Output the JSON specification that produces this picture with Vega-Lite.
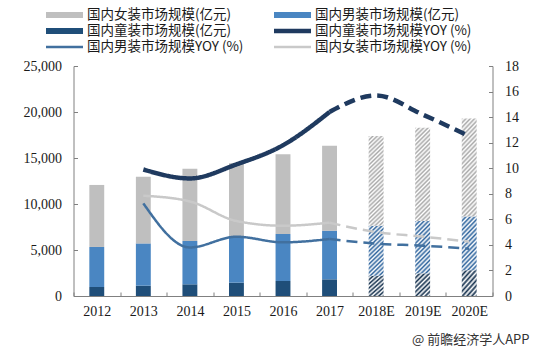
{
  "$schema": "https://vega.github.io/schema/vega-lite/v6.json",
  "width": 419,
  "height": 230,
  "autosize": {"type": "none"},
  "padding": {"left": 73.5, "top": 66, "right": 44.5, "bottom": 56},
  "background": "white",
  "config": {
    "view": {"stroke": null},
    "axis": {"grid": false, "domainColor": "#808080", "tickColor": "#808080", "labelColor": "#1a1a1a", "labelFont": "Liberation Serif", "labelFontSize": 14, "title": null}
  },
  "title": {"text": "@ 前瞻经济学人APP", "orient": "bottom", "anchor": "end", "frame": "group", "offset": 16, "dx": 37, "font": "Noto Sans CJK SC", "fontSize": 13, "fontWeight": "normal", "color": "#333333"},
  "datasets": {
    "bars": [
      {"year": "2012", "series": "国内童装市场规模(亿元)", "value": 980, "ord": 1, "type": "actual"},
      {"year": "2012", "series": "国内男装市场规模(亿元)", "value": 4350, "ord": 2, "type": "actual"},
      {"year": "2012", "series": "国内女装市场规模(亿元)", "value": 6740, "ord": 3, "type": "actual"},
      {"year": "2013", "series": "国内童装市场规模(亿元)", "value": 1120, "ord": 1, "type": "actual"},
      {"year": "2013", "series": "国内男装市场规模(亿元)", "value": 4600, "ord": 2, "type": "actual"},
      {"year": "2013", "series": "国内女装市场规模(亿元)", "value": 7240, "ord": 3, "type": "actual"},
      {"year": "2014", "series": "国内童装市场规模(亿元)", "value": 1270, "ord": 1, "type": "actual"},
      {"year": "2014", "series": "国内男装市场规模(亿元)", "value": 4710, "ord": 2, "type": "actual"},
      {"year": "2014", "series": "国内女装市场规模(亿元)", "value": 7860, "ord": 3, "type": "actual"},
      {"year": "2015", "series": "国内童装市场规模(亿元)", "value": 1450, "ord": 1, "type": "actual"},
      {"year": "2015", "series": "国内男装市场规模(亿元)", "value": 5000, "ord": 2, "type": "actual"},
      {"year": "2015", "series": "国内女装市场规模(亿元)", "value": 7970, "ord": 3, "type": "actual"},
      {"year": "2016", "series": "国内童装市场规模(亿元)", "value": 1630, "ord": 1, "type": "actual"},
      {"year": "2016", "series": "国内男装市场规模(亿元)", "value": 5110, "ord": 2, "type": "actual"},
      {"year": "2016", "series": "国内女装市场规模(亿元)", "value": 8660, "ord": 3, "type": "actual"},
      {"year": "2017", "series": "国内童装市场规模(亿元)", "value": 1810, "ord": 1, "type": "actual"},
      {"year": "2017", "series": "国内男装市场规模(亿元)", "value": 5290, "ord": 2, "type": "actual"},
      {"year": "2017", "series": "国内女装市场规模(亿元)", "value": 9240, "ord": 3, "type": "actual"},
      {"year": "2018E", "series": "国内童装市场规模(亿元)", "value": 2200, "ord": 1, "type": "forecast"},
      {"year": "2018E", "series": "国内男装市场规模(亿元)", "value": 5440, "ord": 2, "type": "forecast"},
      {"year": "2018E", "series": "国内女装市场规模(亿元)", "value": 9750, "ord": 3, "type": "forecast"},
      {"year": "2019E", "series": "国内童装市场规模(亿元)", "value": 2460, "ord": 1, "type": "forecast"},
      {"year": "2019E", "series": "国内男装市场规模(亿元)", "value": 5690, "ord": 2, "type": "forecast"},
      {"year": "2019E", "series": "国内女装市场规模(亿元)", "value": 10150, "ord": 3, "type": "forecast"},
      {"year": "2020E", "series": "国内童装市场规模(亿元)", "value": 2800, "ord": 1, "type": "forecast"},
      {"year": "2020E", "series": "国内男装市场规模(亿元)", "value": 5850, "ord": 2, "type": "forecast"},
      {"year": "2020E", "series": "国内女装市场规模(亿元)", "value": 10650, "ord": 3, "type": "forecast"}
    ],
    "lines": [
      {"year": "2013", "series": "国内童装市场规模YOY (%)", "value": 9.9, "phase": "actual"},
      {"year": "2014", "series": "国内童装市场规模YOY (%)", "value": 9.2, "phase": "actual"},
      {"year": "2015", "series": "国内童装市场规模YOY (%)", "value": 10.3, "phase": "actual"},
      {"year": "2016", "series": "国内童装市场规模YOY (%)", "value": 11.8, "phase": "actual"},
      {"year": "2017", "series": "国内童装市场规模YOY (%)", "value": 14.4, "phase": "actual"},
      {"year": "2017", "series": "国内童装市场规模YOY (%)", "value": 14.4, "phase": "forecast"},
      {"year": "2018E", "series": "国内童装市场规模YOY (%)", "value": 15.7, "phase": "forecast"},
      {"year": "2019E", "series": "国内童装市场规模YOY (%)", "value": 14.2, "phase": "forecast"},
      {"year": "2020E", "series": "国内童装市场规模YOY (%)", "value": 12.5, "phase": "forecast"},
      {"year": "2013", "series": "国内男装市场规模YOY (%)", "value": 7.25, "phase": "actual"},
      {"year": "2014", "series": "国内男装市场规模YOY (%)", "value": 3.8, "phase": "actual"},
      {"year": "2015", "series": "国内男装市场规模YOY (%)", "value": 4.64, "phase": "actual"},
      {"year": "2016", "series": "国内男装市场规模YOY (%)", "value": 4.2, "phase": "actual"},
      {"year": "2017", "series": "国内男装市场规模YOY (%)", "value": 4.46, "phase": "actual"},
      {"year": "2017", "series": "国内男装市场规模YOY (%)", "value": 4.46, "phase": "forecast"},
      {"year": "2018E", "series": "国内男装市场规模YOY (%)", "value": 4.1, "phase": "forecast"},
      {"year": "2019E", "series": "国内男装市场规模YOY (%)", "value": 3.94, "phase": "forecast"},
      {"year": "2020E", "series": "国内男装市场规模YOY (%)", "value": 3.7, "phase": "forecast"},
      {"year": "2013", "series": "国内女装市场规模YOY (%)", "value": 7.85, "phase": "actual"},
      {"year": "2014", "series": "国内女装市场规模YOY (%)", "value": 7.4, "phase": "actual"},
      {"year": "2015", "series": "国内女装市场规模YOY (%)", "value": 5.87, "phase": "actual"},
      {"year": "2016", "series": "国内女装市场规模YOY (%)", "value": 5.5, "phase": "actual"},
      {"year": "2017", "series": "国内女装市场规模YOY (%)", "value": 5.74, "phase": "actual"},
      {"year": "2017", "series": "国内女装市场规模YOY (%)", "value": 5.74, "phase": "forecast"},
      {"year": "2018E", "series": "国内女装市场规模YOY (%)", "value": 5.0, "phase": "forecast"},
      {"year": "2019E", "series": "国内女装市场规模YOY (%)", "value": 4.65, "phase": "forecast"},
      {"year": "2020E", "series": "国内女装市场规模YOY (%)", "value": 4.25, "phase": "forecast"}
    ]
  },
  "layer": [
    {
      "data": {"name": "bars"},
      "transform": [{"filter": "datum.type === 'actual'"}],
      "mark": {"type": "bar", "width": {"band": 0.32}},
      "encoding": {
        "x": {"field": "year", "type": "ordinal",
          "scale": {"domain": ["2012", "2013", "2014", "2015", "2016", "2017", "2018E", "2019E", "2020E"], "paddingInner": 0, "paddingOuter": 0},
          "axis": {"title": null, "labelAngle": 0, "tickBand": "extent", "tickSize": -4, "labelPadding": 12}},
        "y": {"field": "value", "type": "quantitative", "stack": "zero",
          "scale": {"domain": [0, 25000], "nice": false, "zero": true},
          "axis": {"orient": "left", "values": [0, 5000, 10000, 15000, 20000, 25000], "format": ",d", "tickSize": -4, "labelPadding": 16}},
        "color": {"field": "series", "type": "nominal",
          "scale": {"domain": ["国内女装市场规模(亿元)", "国内男装市场规模(亿元)", "国内童装市场规模(亿元)", "国内童装市场规模YOY (%)", "国内男装市场规模YOY (%)", "国内女装市场规模YOY (%)"],
                    "range": ["#BFBFBF", "#4A86C2", "#1F4E79", "#1F3A5F", "#41709F", "#C9C9C9"]},
          "legend": {"orient": "none", "legendX": -30.5, "legendY": -58, "columns": 2, "direction": "horizontal", "symbolType": "M-1,0H6.4", "symbolSize": 100, "clipHeight": 14,
            "labelFont": "Noto Sans CJK SC", "labelFontSize": 13.5, "labelColor": "#1a1a1a", "labelOffset": 28, "columnPadding": 27, "rowPadding": 2, "title": null, "padding": 0, "labelLimit": 300}},
        "order": {"field": "ord", "type": "quantitative"}
      }
    },
    {
      "data": {"name": "bars"},
      "transform": [{"filter": "datum.type === 'forecast'"}],
      "mark": {"type": "bar", "width": {"band": 0.32}},
      "encoding": {
        "x": {"field": "year", "type": "ordinal"},
        "y": {"field": "value", "type": "quantitative", "stack": "zero",
          "scale": {"domain": [0, 25000], "nice": false}, "axis": null},
        "detail": {"field": "series"},
        "order": {"field": "ord", "type": "quantitative"},
        "fill": {
          "condition": [
            {"test": "datum.series === '国内女装市场规模(亿元)'", "value": {"gradient": "linear", "x1": 0, "y1": 0, "x2": 0.1805, "y2": 1.131, "stops": [
              {"offset": 0, "color": "#A9A9A9"}, {"offset": 0.02, "color": "#FFFFFF"}, {"offset": 0.04, "color": "#A9A9A9"}, {"offset": 0.06, "color": "#FFFFFF"}, {"offset": 0.08, "color": "#A9A9A9"}, {"offset": 0.1, "color": "#FFFFFF"}, {"offset": 0.12, "color": "#A9A9A9"}, {"offset": 0.14, "color": "#FFFFFF"}, {"offset": 0.16, "color": "#A9A9A9"}, {"offset": 0.18, "color": "#FFFFFF"},
              {"offset": 0.2, "color": "#A9A9A9"}, {"offset": 0.22, "color": "#FFFFFF"}, {"offset": 0.24, "color": "#A9A9A9"}, {"offset": 0.26, "color": "#FFFFFF"}, {"offset": 0.28, "color": "#A9A9A9"}, {"offset": 0.3, "color": "#FFFFFF"}, {"offset": 0.32, "color": "#A9A9A9"}, {"offset": 0.34, "color": "#FFFFFF"}, {"offset": 0.36, "color": "#A9A9A9"}, {"offset": 0.38, "color": "#FFFFFF"},
              {"offset": 0.4, "color": "#A9A9A9"}, {"offset": 0.42, "color": "#FFFFFF"}, {"offset": 0.44, "color": "#A9A9A9"}, {"offset": 0.46, "color": "#FFFFFF"}, {"offset": 0.48, "color": "#A9A9A9"}, {"offset": 0.5, "color": "#FFFFFF"}, {"offset": 0.52, "color": "#A9A9A9"}, {"offset": 0.54, "color": "#FFFFFF"}, {"offset": 0.56, "color": "#A9A9A9"}, {"offset": 0.58, "color": "#FFFFFF"},
              {"offset": 0.6, "color": "#A9A9A9"}, {"offset": 0.62, "color": "#FFFFFF"}, {"offset": 0.64, "color": "#A9A9A9"}, {"offset": 0.66, "color": "#FFFFFF"}, {"offset": 0.68, "color": "#A9A9A9"}, {"offset": 0.7, "color": "#FFFFFF"}, {"offset": 0.72, "color": "#A9A9A9"}, {"offset": 0.74, "color": "#FFFFFF"}, {"offset": 0.76, "color": "#A9A9A9"}, {"offset": 0.78, "color": "#FFFFFF"},
              {"offset": 0.8, "color": "#A9A9A9"}, {"offset": 0.82, "color": "#FFFFFF"}, {"offset": 0.84, "color": "#A9A9A9"}, {"offset": 0.86, "color": "#FFFFFF"}, {"offset": 0.88, "color": "#A9A9A9"}, {"offset": 0.9, "color": "#FFFFFF"}, {"offset": 0.92, "color": "#A9A9A9"}, {"offset": 0.94, "color": "#FFFFFF"}, {"offset": 0.96, "color": "#A9A9A9"}, {"offset": 0.98, "color": "#FFFFFF"}, {"offset": 1, "color": "#A9A9A9"}
            ]}},
            {"test": "datum.series === '国内男装市场规模(亿元)'", "value": {"gradient": "linear", "x1": 0, "y1": 0, "x2": 0.343, "y2": 1.189, "stops": [
              {"offset": 0, "color": "#2F659E"}, {"offset": 0.0333, "color": "#FFFFFF"}, {"offset": 0.0667, "color": "#2F659E"}, {"offset": 0.1, "color": "#FFFFFF"}, {"offset": 0.1333, "color": "#2F659E"}, {"offset": 0.1667, "color": "#FFFFFF"}, {"offset": 0.2, "color": "#2F659E"}, {"offset": 0.2333, "color": "#FFFFFF"}, {"offset": 0.2667, "color": "#2F659E"}, {"offset": 0.3, "color": "#FFFFFF"},
              {"offset": 0.3333, "color": "#2F659E"}, {"offset": 0.3667, "color": "#FFFFFF"}, {"offset": 0.4, "color": "#2F659E"}, {"offset": 0.4333, "color": "#FFFFFF"}, {"offset": 0.4667, "color": "#2F659E"}, {"offset": 0.5, "color": "#FFFFFF"}, {"offset": 0.5333, "color": "#2F659E"}, {"offset": 0.5667, "color": "#FFFFFF"}, {"offset": 0.6, "color": "#2F659E"}, {"offset": 0.6333, "color": "#FFFFFF"},
              {"offset": 0.6667, "color": "#2F659E"}, {"offset": 0.7, "color": "#FFFFFF"}, {"offset": 0.7333, "color": "#2F659E"}, {"offset": 0.7667, "color": "#FFFFFF"}, {"offset": 0.8, "color": "#2F659E"}, {"offset": 0.8333, "color": "#FFFFFF"}, {"offset": 0.8667, "color": "#2F659E"}, {"offset": 0.9, "color": "#FFFFFF"}, {"offset": 0.9333, "color": "#2F659E"}, {"offset": 0.9667, "color": "#FFFFFF"}, {"offset": 1, "color": "#2F659E"}
            ]}}
          ],
          "value": {"gradient": "linear", "x1": 0, "y1": 0, "x2": 0.756, "y2": 1.159, "stops": [
            {"offset": 0, "color": "#16324F"}, {"offset": 0.0625, "color": "#FFFFFF"}, {"offset": 0.125, "color": "#16324F"}, {"offset": 0.1875, "color": "#FFFFFF"}, {"offset": 0.25, "color": "#16324F"}, {"offset": 0.3125, "color": "#FFFFFF"}, {"offset": 0.375, "color": "#16324F"}, {"offset": 0.4375, "color": "#FFFFFF"}, {"offset": 0.5, "color": "#16324F"},
            {"offset": 0.5625, "color": "#FFFFFF"}, {"offset": 0.625, "color": "#16324F"}, {"offset": 0.6875, "color": "#FFFFFF"}, {"offset": 0.75, "color": "#16324F"}, {"offset": 0.8125, "color": "#FFFFFF"}, {"offset": 0.875, "color": "#16324F"}, {"offset": 0.9375, "color": "#FFFFFF"}, {"offset": 1, "color": "#16324F"}
          ]}
        }
      }
    },
    {
      "data": {"name": "lines"},
      "mark": {"type": "line", "interpolate": "monotone"},
      "encoding": {
        "x": {"field": "year", "type": "ordinal"},
        "y": {"field": "value", "type": "quantitative",
          "scale": {"domain": [0, 18], "nice": false},
          "axis": {"orient": "right", "values": [0, 2, 4, 6, 8, 10, 12, 14, 16, 18], "tickSize": -4, "labelPadding": 16}},
        "color": {"field": "series", "type": "nominal"},
        "strokeDash": {"field": "phase", "type": "nominal", "scale": {"domain": ["actual", "forecast"], "range": [[1, 0], [11, 6]]}, "legend": null},
        "strokeWidth": {"field": "series", "type": "nominal",
          "scale": {"type": "ordinal", "domain": ["国内女装市场规模(亿元)", "国内男装市场规模(亿元)", "国内童装市场规模(亿元)", "国内童装市场规模YOY (%)", "国内男装市场规模YOY (%)", "国内女装市场规模YOY (%)"], "range": [6, 6, 6, 4.5, 2.5, 2.5]}}
      }
    }
  ],
  "resolve": {"scale": {"y": "independent"}}
}
